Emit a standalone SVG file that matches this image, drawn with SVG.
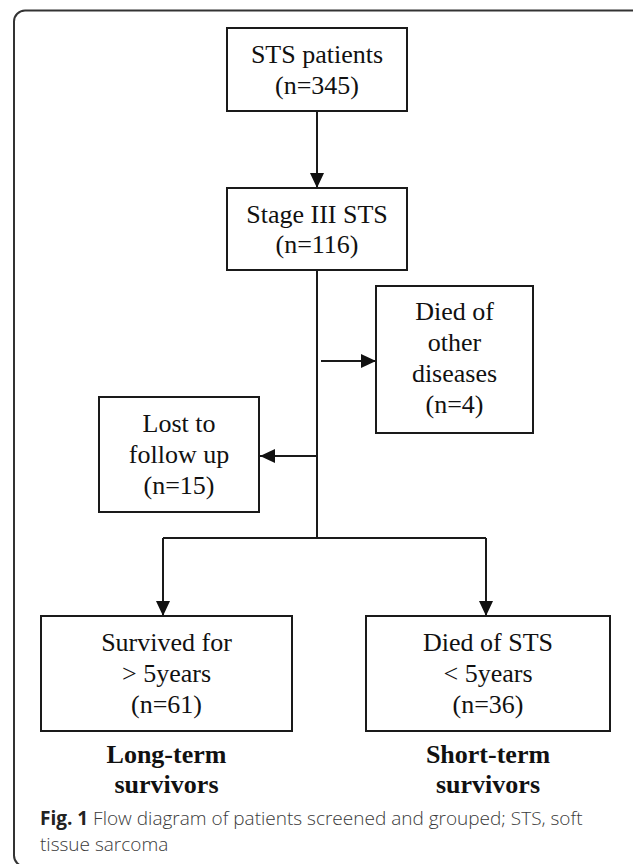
<svg xmlns="http://www.w3.org/2000/svg" width="633" height="864" viewBox="0 0 633 864">
<defs>
<style>
.box{fill:#fff;stroke:#1a1a1a;stroke-width:2}
.t{font-family:"Liberation Serif","Times New Roman",serif;font-size:26px;fill:#111;text-anchor:middle}
.b{font-family:"Liberation Serif","Times New Roman",serif;font-size:26px;font-weight:bold;fill:#111;text-anchor:middle}
.cap{font-family:"Open Sans","Noto Sans",sans-serif;font-size:19px;fill:#3a3a3a;font-weight:300}
.ln{fill:none;stroke:#1a1a1a;stroke-width:2}
</style>
<marker id="ah" markerUnits="userSpaceOnUse" markerWidth="16" markerHeight="14" refX="15" refY="7" orient="auto">
<path d="M0,0 L15,7 L0,14 z" fill="#111"/>
</marker>
</defs>
<rect x="14" y="10.5" width="630" height="856" rx="11" fill="#fff" stroke="#333" stroke-width="2"/>
<g id="connectors">
<line class="ln" x1="317" y1="111" x2="317" y2="188" marker-end="url(#ah)"/>
<polyline class="ln" points="317,270 317,538"/>
<line class="ln" x1="321" y1="361" x2="376" y2="361" marker-end="url(#ah)"/>
<line class="ln" x1="317" y1="456" x2="260" y2="456" marker-end="url(#ah)"/>
<polyline class="ln" points="163,538 486,538"/>
<line class="ln" x1="163" y1="538" x2="163" y2="616" marker-end="url(#ah)"/>
<line class="ln" x1="486" y1="538" x2="486" y2="616" marker-end="url(#ah)"/>
</g>
<g id="n1">
<rect class="box" x="227" y="28" width="180" height="83"/>
<text class="t" x="317" y="63">STS patients</text>
<text class="t" x="317" y="94">(n=345)</text>
</g>
<g id="n2">
<rect class="box" x="227" y="188" width="180" height="82"/>
<text class="t" x="317" y="223">Stage III STS</text>
<text class="t" x="317" y="253">(n=116)</text>
</g>
<g id="n3">
<rect class="box" x="376" y="286" width="157" height="147"/>
<text class="t" x="454.5" y="320">Died of</text>
<text class="t" x="454.5" y="351">other</text>
<text class="t" x="454.5" y="382">diseases</text>
<text class="t" x="454.5" y="413">(n=4)</text>
</g>
<g id="n4">
<rect class="box" x="99" y="397" width="160" height="115"/>
<text class="t" x="179" y="432">Lost to</text>
<text class="t" x="179" y="463">follow up</text>
<text class="t" x="179" y="494">(n=15)</text>
</g>
<g id="n5">
<rect class="box" x="41" y="616" width="251" height="115"/>
<text class="t" x="166.5" y="651">Survived for</text>
<text class="t" x="166.5" y="682">&gt; 5years</text>
<text class="t" x="166.5" y="713">(n=61)</text>
<text class="b" x="166.5" y="763">Long-term</text>
<text class="b" x="166.5" y="793">survivors</text>
</g>
<g id="n6">
<rect class="box" x="366" y="616" width="244" height="115"/>
<text class="t" x="488" y="651">Died of STS</text>
<text class="t" x="488" y="682">&lt; 5years</text>
<text class="t" x="488" y="713">(n=36)</text>
<text class="b" x="488" y="763">Short-term</text>
<text class="b" x="488" y="793">survivors</text>
</g>
<g id="caption">
<text class="cap" x="40" y="825"><tspan font-weight="bold" fill="#222">Fig. 1</tspan> Flow diagram of patients screened and grouped; STS, soft</text>
<text class="cap" x="40" y="851">tissue sarcoma</text>
</g>
</svg>
